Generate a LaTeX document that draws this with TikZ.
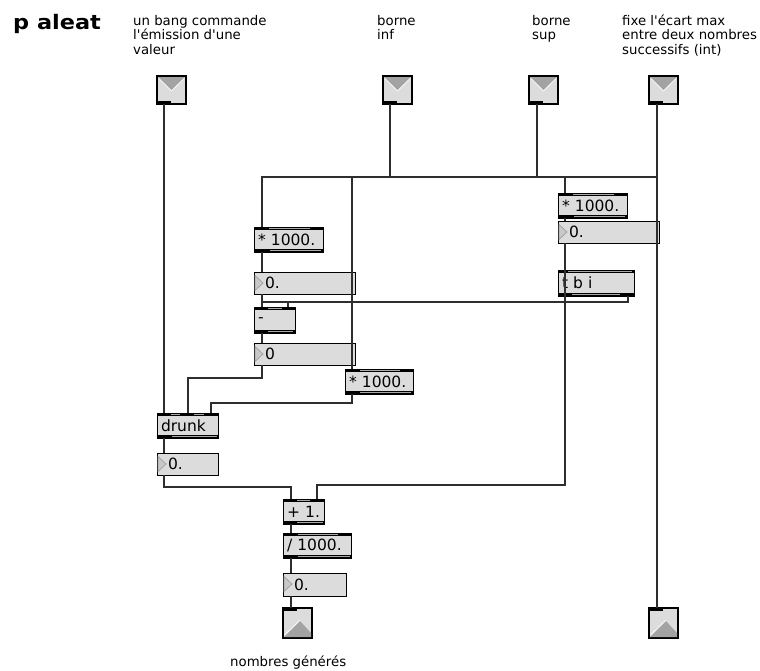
\documentclass[tikz,border=0pt]{standalone}
\usepackage{fontspec}
\setmainfont{DejaVu Sans}
\newfontfamily\plainfam{DejaVu Sans}
\usepackage{graphicx}
\usetikzlibrary{calc}
\definecolor{boxgray}{HTML}{DCDCDC}
\definecolor{bandgray}{HTML}{A9A9A9}
\definecolor{cordcol}{HTML}{2E2E2E}
\definecolor{tri}{HTML}{A3A3A3}
\newcommand{\boxfont}{\plainfam\fontsize{15.5}{17}\selectfont}
\newcommand{\cmtfont}{\plainfam\fontsize{13.3}{14.5}\selectfont}
\newcommand{\ttlfont}{\fontsize{20}{24}\selectfont\bfseries}
\tikzset{
  objbox/.style={draw=black, line width=1pt, fill=boxgray, anchor=north west, outer sep=0pt, inner xsep=4pt, inner ysep=0pt, text width=#1, minimum height=25pt, align=left, font=\boxfont},
  numbox/.style={draw=black, line width=1pt, fill=boxgray, anchor=north west, outer sep=0pt, inner xsep=11pt, inner ysep=0pt, text width=#1, minimum height=22pt, align=left, font=\boxfont},
  iobox/.style={draw=black, line width=1.2pt, fill=boxgray, anchor=north west, outer sep=0pt, inner sep=0pt, minimum width=29pt, minimum height=28pt},
  cmtline/.style={anchor=base west, inner sep=0pt, font=\cmtfont},
  cord/.style={draw=cordcol, line width=1.3pt},
  bandline/.style={draw=bandgray, line width=1pt},
}
\newcommand{\objbands}[1]{%
  \fill[black] ([xshift=-0.5pt,yshift=0.5pt]#1.north west) rectangle ([xshift=0.5pt,yshift=-3pt]#1.north east);
  \fill[black] ([xshift=-0.5pt,yshift=-0.5pt]#1.south west) rectangle ([xshift=0.5pt,yshift=3pt]#1.south east);}
\newcommand{\tgap}[3]{\draw[bandline] ([xshift=#2pt,yshift=-1.5pt]#1.north west) -- ([xshift=#3pt,yshift=-1.5pt]#1.north west);}
\newcommand{\bgap}[3]{\draw[bandline] ([xshift=#2pt,yshift=1.5pt]#1.south west) -- ([xshift=#3pt,yshift=1.5pt]#1.south west);}
\newcommand{\numtri}[1]{\filldraw[fill=tri!60, draw=tri, line width=0.8pt] ([xshift=1pt,yshift=-3.5pt]#1.north west) -- ([xshift=9pt,yshift=-11pt]#1.north west) -- ([xshift=1pt,yshift=-18.5pt]#1.north west) -- cycle;}
\newcommand{\indeco}[1]{%
  \fill[tri] ([xshift=1pt,yshift=-1pt]#1.north west) -- ([xshift=-1pt,yshift=-1pt]#1.north east) -- ([yshift=-14pt]#1.north) -- cycle;
  \draw[white, line width=0.6pt] ([xshift=2pt,yshift=-2.5pt]#1.north west) -- ([yshift=-15pt]#1.north) -- ([xshift=-2pt,yshift=-2.5pt]#1.north east);
  \fill[black] ([yshift=0.6pt]#1.south west) rectangle ([xshift=14pt,yshift=3pt]#1.south west);}
\newcommand{\outdeco}[1]{%
  \fill[tri] ([xshift=1pt,yshift=1pt]#1.south west) -- ([xshift=17pt,yshift=-13pt]#1.north west) -- ([xshift=-1pt,yshift=5pt]#1.south east) -- ([xshift=-1pt,yshift=1pt]#1.south east) -- cycle;
  \draw[white, line width=0.6pt] ([xshift=1.5pt,yshift=3pt]#1.south west) -- ([xshift=17pt,yshift=-12pt]#1.north west);
  \fill[black] ([yshift=-0.6pt]#1.north west) rectangle ([xshift=14pt,yshift=-3pt]#1.north west);}
\begin{document}
\begin{tikzpicture}[x=1pt,y=-1pt]
\fill[white] (0,0) rectangle (760,670);
\useasboundingbox (0,0) rectangle (760,670);

% title and comments
\node[anchor=base west, inner sep=0pt, font=\ttlfont] (title) at (13,29) {\scalebox{1.12}[1]{p aleat}};
\node[cmtline] (c1a) at (133,25) {un bang commande};
\node[cmtline] (c1b) at (133,39.5) {l'émission d'une};
\node[cmtline] (c1c) at (133,54) {valeur};
\node[cmtline] (c2a) at (377,25) {borne};
\node[cmtline] (c2b) at (377,39.5) {inf};
\node[cmtline] (c3a) at (532,25) {borne};
\node[cmtline] (c3b) at (532,39.5) {sup};
\node[cmtline] (c4a) at (622,25) {fixe l'écart max};
\node[cmtline] (c4b) at (622,39.5) {entre deux nombres};
\node[cmtline] (c4c) at (622,54) {successifs (int)};
\node[cmtline] (c5) at (230,666) {nombres générés};

% inlets / outlets
\node[iobox] (in1) at (157,76) {};
\node[iobox] (in2) at (383,76) {};
\node[iobox] (in3) at (529,76) {};
\node[iobox] (in4) at (649,76) {};
\node[iobox, minimum height=30pt] (out1) at (283,608) {};
\node[iobox, minimum height=30pt] (out2) at (649,608) {};
\indeco{in1}\indeco{in2}\indeco{in3}\indeco{in4}
\outdeco{out1}\outdeco{out2}

% objects
\node[objbox=61pt] (m1) at (254,227) {* 1000.};
\node[numbox=79pt] (n1) at (254,272) {0.};
\node[objbox=33pt, minimum height=26pt] (sub) at (254,307) {-};
\node[numbox=79pt] (n2) at (254,343) {0};
\node[objbox=60pt] (m2) at (345,369) {* 1000.};
\node[objbox=53pt] (drunk) at (157,413) {drunk};
\node[numbox=39pt] (n3) at (157,453) {0.};
\node[objbox=33pt] (plus) at (283,499) {+ 1.};
\node[objbox=60pt] (div) at (283,533) {/ 1000.};
\node[numbox=41pt, minimum height=23pt] (n4) at (283,573) {0.};
\node[objbox=61pt] (m3) at (558,193) {* 1000.};
\node[numbox=79pt] (n5) at (558,221) {0.};
\node[objbox=68pt, minimum height=26pt] (tbi) at (558,270) {t b i};

\objbands{m1}\tgap{m1}{15}{56}\bgap{m1}{16}{67}
\objbands{m2}\tgap{m2}{15}{55}\bgap{m2}{15}{66}
\objbands{m3}\tgap{m3}{15}{56}\bgap{m3}{16}{67}
\objbands{sub}\tgap{sub}{14}{28}\bgap{sub}{14}{39}
\objbands{drunk}\tgap{drunk}{14}{23}\tgap{drunk}{37}{47}\bgap{drunk}{15}{60}
\objbands{plus}\tgap{plus}{14}{27}\bgap{plus}{14}{40}
\objbands{div}\tgap{div}{15}{55}\bgap{div}{15}{67}
\objbands{tbi}\tgap{tbi}{10}{74}\bgap{tbi}{14}{62}
\numtri{n1}\numtri{n2}\numtri{n3}\numtri{n4}\numtri{n5}

% patch cords
\draw[cord] ([xshift=7pt]in1.south west) -- ([xshift=7pt]drunk.north west);
\draw[cord] ([xshift=7pt]in2.south west) -- ++(0,73) -| ([xshift=8pt]m1.north west);
\draw[cord] ([xshift=8pt]in3.south west) -- ++(0,73) -| ([xshift=7pt]m3.north west);
\draw[cord] ([xshift=8pt]in4.south west) -- ([xshift=8pt]out2.north west);
\draw[cord] ([xshift=8pt]in4.south west) ++(0,73) -| ([xshift=7pt]m2.north west);
\draw[cord] ([xshift=8pt]m1.south west) -- ([xshift=8pt]n1.north west);
\draw[cord] ([xshift=8pt]n1.south west) -- ([xshift=8pt]sub.north west);
\draw[cord] ([xshift=-6pt]tbi.south east) -- ++(0,6) -| ([xshift=34pt]sub.north west);
\draw[cord] ([xshift=-6pt]tbi.south east) ++(0,6) -| ([xshift=8pt]sub.north west);
\draw[cord] ([xshift=8pt]sub.south west) -- ([xshift=8pt]n2.north west);
\draw[cord] ([xshift=8pt]n2.south west) -- ++(0,13) -| ([xshift=31pt]drunk.north west);
\draw[cord] ([xshift=7pt]m2.south west) -- ++(0,9) -| ([xshift=54pt]drunk.north west);
\draw[cord] ([xshift=7pt]drunk.south west) -- ([xshift=7pt]n3.north west);
\draw[cord] ([xshift=7pt]n3.south west) -- ++(0,12) -| ([xshift=8pt]plus.north west);
\draw[cord] ([xshift=7pt]m3.south west) -- ([xshift=7pt]n5.north west);
\draw[cord] ([xshift=7pt]n5.south west) -- ([xshift=7pt]tbi.north west);
\draw[cord] ([xshift=7pt]n5.south west) -- ++(0,242) -| ([xshift=34pt]plus.north west);
\draw[cord] ([xshift=8pt]plus.south west) -- ([xshift=8pt]div.north west);
\draw[cord] ([xshift=8pt]div.south west) -- ([xshift=8pt]n4.north west);
\draw[cord] ([xshift=8pt]n4.south west) -- ([xshift=8pt]out1.north west);
\end{tikzpicture}
\end{document}
